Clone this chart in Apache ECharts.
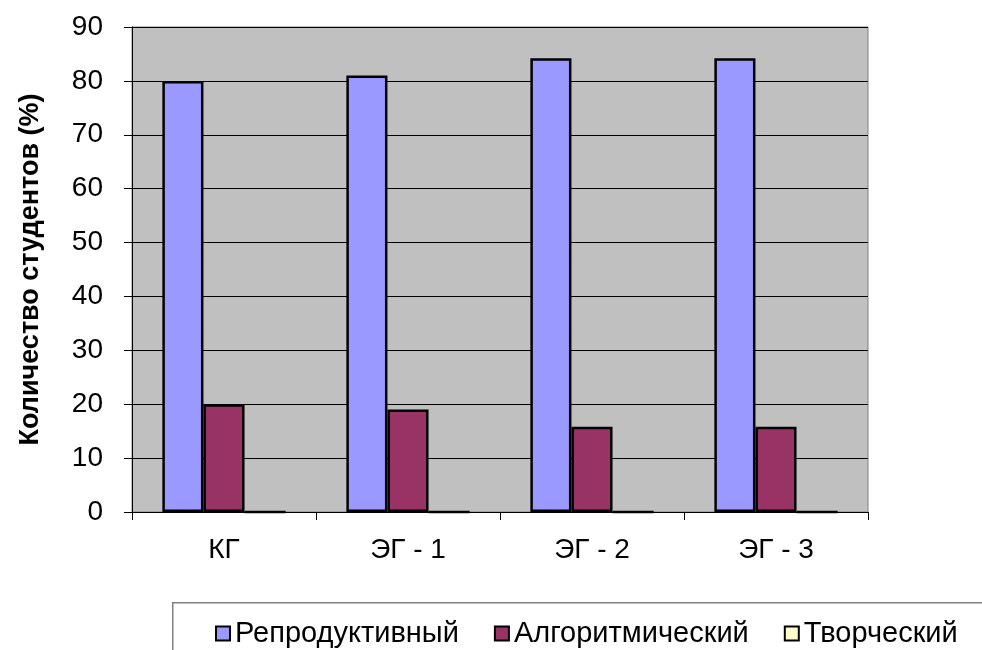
<!DOCTYPE html>
<html>
<head>
<meta charset="utf-8">
<script src="https://cdn.jsdelivr.net/npm/echarts@6/dist/echarts.min.js"></script>
<style>
  html, body { margin: 0; padding: 0; background: #fff; }
  #chart { width: 982px; height: 650px; }
</style>
</head>
<body>
<div id="chart"></div>
<script>
// группы
var groups = ['КГ', 'ЭГ - 1', 'ЭГ - 2', 'ЭГ - 3'];
// уровни
var levelNames = ['Репродуктивный', 'Алгоритмический', 'Творческий'];
var reproductive = [80, 81, 84.2, 84.2];
var algorithmic = [20, 19, 15.8, 15.8];
var creative = [0, 0, 0, 0];
var yTicks = [0, 10, 20, 30, 40, 50, 60, 70, 80, 90];

var colors = ['#9999FF', '#993366', '#FFFFCC'];
var font = 'Liberation Sans, Arial, sans-serif';

var chart = echarts.init(document.getElementById('chart'));

function barSeries(name, data, color) {
    return {
        name: name,
        type: 'bar',
        data: data,
        barGap: 0,
        barCategoryGap: '33%',
        itemStyle: {
            color: color,
            borderColor: '#000',
            borderWidth: 2.5
        }
    };
}

var option = {
    animation: false,
    textStyle: { fontFamily: font },
    grid: {
        left: 132,
        right: 114,
        top: 27,
        bottom: 138,
        show: true,
        backgroundColor: '#C0C0C0',
        borderColor: '#808080',
        borderWidth: 1
    },
    graphic: [
        {
            type: 'rect',
            left: 172,
            top: 602,
            shape: { width: 900, height: 100 },
            style: { fill: '#fff', stroke: '#808080', lineWidth: 1.5 },
            z: -1
        }
    ],
    legend: {
        data: levelNames,
        left: 210,
        top: 614,
        itemWidth: 14,
        itemHeight: 14,
        itemGap: 35,
        icon: 'rect',
        itemStyle: { borderColor: '#000', borderWidth: 2 },
        textStyle: { fontSize: 29, color: '#000', fontFamily: font }
    },
    xAxis: {
        type: 'category',
        data: groups,
        axisLine: { lineStyle: { color: '#000', width: 1 } },
        axisTick: { show: true, length: 8, lineStyle: { color: '#000' } },
        axisLabel: { fontSize: 28, color: '#000', margin: 24, fontFamily: font }
    },
    yAxis: {
        type: 'value',
        min: yTicks[0],
        max: yTicks[yTicks.length - 1],
        interval: 10,
        name: 'Количество студентов (%)',
        nameLocation: 'middle',
        nameGap: 88,
        nameTextStyle: { fontSize: 27, fontWeight: 'bold', color: '#000', fontFamily: font },
        axisLine: { show: true, lineStyle: { color: '#000', width: 1 } },
        axisTick: { show: true, length: 8, lineStyle: { color: '#000' } },
        axisLabel: { fontSize: 28, color: '#000', margin: 29, fontFamily: font },
        splitLine: { lineStyle: { color: '#000', width: 1 } }
    },
    series: [
        barSeries(levelNames[0], reproductive, colors[0]),
        barSeries(levelNames[1], algorithmic, colors[1]),
        barSeries(levelNames[2], creative, colors[2])
    ]
};
chart.setOption(option);
</script>
</body>
</html>
